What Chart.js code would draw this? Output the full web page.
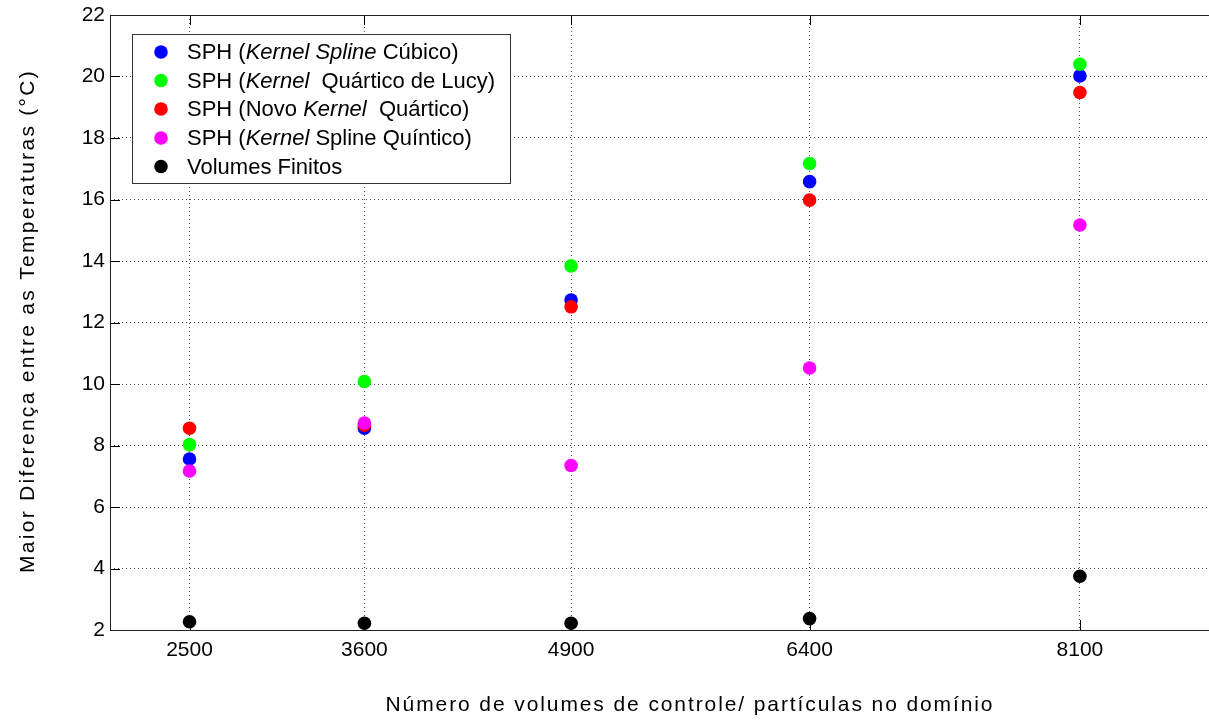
<!DOCTYPE html>
<html>
<head>
<meta charset="utf-8">
<script src="https://cdn.jsdelivr.net/npm/chart.js@4/dist/chart.umd.min.js"></script>
<style>
  html, body { margin: 0; padding: 0; background: #fff; overflow: hidden; }
  #wrap { position: relative; width: 1230px; height: 724px; }
</style>
</head>
<body>
<div id="wrap"><canvas id="c"></canvas></div>
<script>
// ---- data ----
const xValues = [2500, 3600, 4900, 6400, 8100];
const cubicSpline = [7.56, 8.56, 12.73, 16.58, 20.02];
const lucyQuartic = [8.03, 10.08, 13.84, 17.17, 20.40];
const newQuartic = [8.56, 8.66, 12.51, 15.98, 19.48];
const quinticSpline = [7.17, 8.73, 7.35, 10.52, 15.17];
const finiteVolumes = [2.27, 2.22, 2.22, 2.37, 3.75];
const xTickValues = [2500, 3600, 4900, 6400, 8100];
const yTickValues = [2, 4, 6, 8, 10, 12, 14, 16, 18, 20, 22];
const seriesColors = ['#0000ff', '#00ff00', '#ff0000', '#ff00ff', '#000000'];
const legendLabels = [
  [['SPH (', false], ['Kernel Spline', true], [' Cúbico)', false]],
  [['SPH (', false], ['Kernel', true], ['  Quártico de Lucy)', false]],
  [['SPH (Novo ', false], ['Kernel', true], ['  Quártico)', false]],
  [['SPH (', false], ['Kernel', true], [' Spline Quíntico)', false]],
  [['Volumes Finitos', false]]
];
const xTitle = 'Número de volumes de controle/ partículas no domínio';
const yTitle = 'Maior Diferença entre as Temperaturas (°C)';

const FONT = '"Liberation Sans", Arial, sans-serif';
const seriesValues = [cubicSpline, lucyQuartic, newQuartic, quinticSpline, finiteVolumes];

const datasets = seriesValues.map((vals, i) => ({
  label: legendLabels[i].map(s => s[0]).join(''),
  data: xValues.map((x, j) => ({ x: x, y: vals[j] })),
  backgroundColor: seriesColors[i],
  borderColor: seriesColors[i],
  borderWidth: 0,
  pointRadius: 6.8,
  pointHoverRadius: 6.8,
  order: 5 - i
}));

const framePlugin = {
  id: 'frame',
  afterDraw(chart) {
    const ctx = chart.ctx;
    const a = chart.chartArea;
    const xs = chart.scales.x, ys = chart.scales.y;
    ctx.save();
    ctx.strokeStyle = '#000';
    ctx.lineWidth = 1;
    ctx.beginPath();
    // inward ticks
    yTickValues.forEach(v => {
      const py = Math.round(ys.getPixelForValue(v)) + 0.5;
      ctx.moveTo(a.left, py); ctx.lineTo(a.left + 10, py);
      ctx.moveTo(a.right, py); ctx.lineTo(a.right - 10, py);
    });
    xTickValues.forEach(v => {
      const px = Math.round(xs.getPixelForValue(v)) + 0.5;
      ctx.moveTo(px, a.bottom); ctx.lineTo(px, a.bottom - 10);
      ctx.moveTo(px, a.top); ctx.lineTo(px, a.top + 10);
    });
    ctx.stroke();
    ctx.strokeStyle = '#222';
    ctx.strokeRect(a.left + 0.5, a.top + 0.5, a.right - a.left, a.bottom - a.top);

    // axis titles
    ctx.fillStyle = '#000';
    ctx.textAlign = 'center';
    ctx.textBaseline = 'middle';
    ctx.save();
    ctx.font = '21px ' + FONT;
    if ('letterSpacing' in ctx) ctx.letterSpacing = '1.9px';
    ctx.translate(690, 705);
    ctx.fillText(xTitle, 0, 0);
    ctx.restore();
    ctx.save();
    ctx.font = '21px ' + FONT;
    if ('letterSpacing' in ctx) ctx.letterSpacing = '2.3px';
    ctx.translate(28, 321);
    ctx.rotate(-Math.PI / 2);
    ctx.fillText(yTitle, 0, 0);
    ctx.restore();

    // legend
    const bx = 132, by = 34, bw = 378, bh = 149;
    ctx.fillStyle = '#fff';
    ctx.fillRect(bx, by, bw, bh);
    ctx.strokeStyle = '#333';
    ctx.strokeRect(bx + 0.5, by + 0.5, bw, bh);
    const rowY = [52, 80.5, 109, 138, 166.5];
    legendLabels.forEach((segs, i) => {
      ctx.fillStyle = seriesColors[i];
      ctx.beginPath();
      ctx.arc(161, rowY[i], 6.8, 0, Math.PI * 2);
      ctx.fill();
      let tx = 187;
      ctx.fillStyle = '#000';
      ctx.textBaseline = 'middle';
      ctx.textAlign = 'left';
      segs.forEach(([t, it]) => {
        ctx.font = (it ? 'italic ' : '') + '22px ' + FONT;
        ctx.fillText(t, tx, rowY[i] + 1);
        tx += ctx.measureText(t).width;
      });
    });
    ctx.restore();
  }
};

new Chart(document.getElementById('c'), {
  type: 'scatter',
  data: { datasets },
  options: {
    responsive: true,
    maintainAspectRatio: false,
    animation: false,
    devicePixelRatio: 1,
    layout: { padding: { top: 15, right: 7, left: 0, bottom: 0 } },
    plugins: { legend: { display: false }, tooltip: { enabled: false } },
    scales: {
      x: {
        type: 'linear',
        min: 2000,
        max: 9000,
        afterBuildTicks: s => { s.ticks = xTickValues.map(v => ({ value: v })); },
        afterFit: s => { s.height = 94; s.paddingLeft = 0; s.paddingRight = 0; },
        ticks: {
          callback: v => String(v),
          color: '#000',
          padding: 8,
          font: { family: FONT, size: 21 },
          maxRotation: 0
        },
        grid: { color: 'rgba(0,0,0,0.7)', lineWidth: 1, drawTicks: false },
        border: { display: false, dash: [1, 3] }
      },
      y: {
        type: 'linear',
        min: 2,
        max: 22,
        afterBuildTicks: s => { s.ticks = yTickValues.map(v => ({ value: v })); },
        afterFit: s => { s.width = 110; s.paddingTop = 0; s.paddingBottom = 0; },
        ticks: {
          color: '#000',
          padding: 5,
          font: { family: FONT, size: 21 }
        },
        grid: { color: 'rgba(0,0,0,0.7)', lineWidth: 1, drawTicks: false },
        border: { display: false, dash: [1, 3] }
      }
    }
  },
  plugins: [framePlugin]
});
</script>
</body>
</html>
